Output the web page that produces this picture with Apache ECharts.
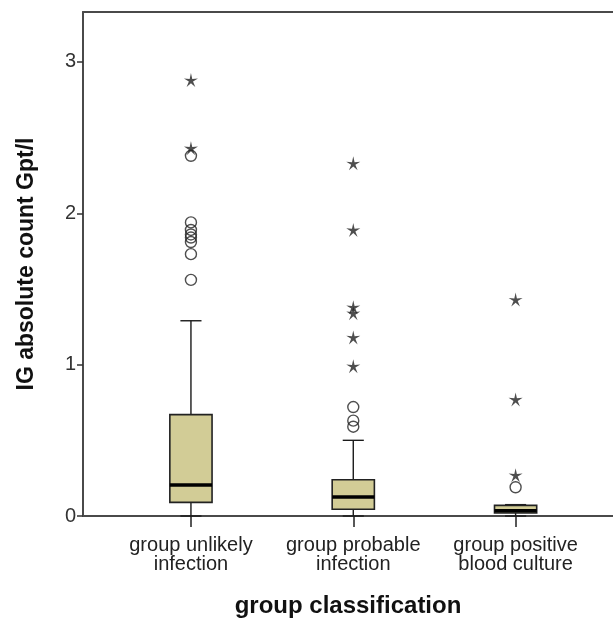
<!DOCTYPE html>
<html>
<head>
<meta charset="utf-8">
<script src="https://cdn.jsdelivr.net/npm/echarts@6/dist/echarts.min.js"></script>
<style>html,body{margin:0;padding:0;background:#fff}#c{width:613px;height:621px}</style>
</head>
<body>
<div id="c"></div>
<script>
const categories = ['group unlikely\ninfection', 'group probable\ninfection', 'group positive\nblood culture'];
const positions = [1, 2, 3];
const whiskerLow = [0, 0, 0];
const q1 = [0.09, 0.045, 0.02];
const median = [0.205, 0.125, 0.035];
const q3 = [0.67, 0.24, 0.07];
const whiskerHigh = [1.29, 0.50, 0.075];
const outliers = [
  [1, 2.38], [1, 1.94], [1, 1.89], [1, 1.86], [1, 1.84], [1, 1.81], [1, 1.73], [1, 1.56],
  [2, 0.72], [2, 0.63], [2, 0.59],
  [3, 0.19]
];
const extremes = [
  [1, 2.88], [1, 2.43],
  [2, 2.33], [2, 1.89], [2, 1.38], [2, 1.34], [2, 1.18], [2, 0.99],
  [3, 1.43], [3, 0.77], [3, 0.27]
];
const yTicks = [0, 1, 2, 3];

const boxData = positions.map((p, i) => [p, whiskerLow[i], q1[i], median[i], q3[i], whiskerHigh[i]]);
const BOX_HALF = 0.13, CAP_HALF = 0.065;
const FONT = 'Liberation Sans, Arial, sans-serif';
const starPath = 'path://M50,0 L58.82,37.86 L97.55,34.55 L64.27,54.64 L79.39,90.45 L50,65 L20.61,90.45 L35.73,54.64 L2.45,34.55 L41.18,37.86 Z';

function renderBox(params, api) {
  const x = api.value(0);
  const lo = api.coord([x, api.value(1)]);
  const b1 = api.coord([x - BOX_HALF, api.value(2)]);
  const b2 = api.coord([x + BOX_HALF, api.value(4)]);
  const md = api.coord([x, api.value(3)]);
  const hi = api.coord([x, api.value(5)]);
  const c1 = api.coord([x - CAP_HALF, 0])[0];
  const c2 = api.coord([x + CAP_HALF, 0])[0];
  const ln = {stroke: '#1a1a1a', lineWidth: 1.4};
  return {
    type: 'group',
    children: [
      {type: 'line', shape: {x1: lo[0], y1: b1[1], x2: lo[0], y2: lo[1]}, style: ln},
      {type: 'line', shape: {x1: hi[0], y1: b2[1], x2: hi[0], y2: hi[1]}, style: ln},
      {type: 'line', shape: {x1: c1, y1: lo[1], x2: c2, y2: lo[1]}, style: ln},
      {type: 'line', shape: {x1: c1, y1: hi[1], x2: c2, y2: hi[1]}, style: ln},
      {type: 'rect', shape: {x: b1[0], y: b2[1], width: b2[0] - b1[0], height: b1[1] - b2[1]},
        style: {fill: '#d2cc96', stroke: '#222', lineWidth: 1.6}},
      {type: 'line', shape: {x1: b1[0], y1: md[1], x2: b2[0], y2: md[1]}, style: {stroke: '#000', lineWidth: 3.5}}
    ]
  };
}

const chart = echarts.init(document.getElementById('c'), null, {renderer: 'canvas'});
chart.setOption({
  animation: false,
  backgroundColor: '#fff',
  grid: {left: 83, right: 0, top: 12, bottom: 105, containLabel: false, outerBoundsMode: 'none'},
  xAxis: [{
    type: 'value', min: 0.335, max: 3.6,
    splitLine: {show: false},
    axisLine: {lineStyle: {color: '#4a4a4a', width: 2}},
    axisTick: {customValues: positions, length: 11, lineStyle: {color: '#222', width: 1.5}},
    axisLabel: {customValues: positions, formatter: v => categories[Math.round(v) - 1] || '',
      fontFamily: FONT, fontSize: 20, lineHeight: 19, color: '#222', margin: 20},
    name: 'group classification', nameLocation: 'middle', nameGap: 78,
    nameTextStyle: {fontFamily: FONT, fontWeight: 'bold', fontSize: 24, color: '#111'}
  }, {
    type: 'value', min: 0.335, max: 3.6, position: 'top',
    splitLine: {show: false}, axisTick: {show: false}, axisLabel: {show: false},
    axisLine: {show: true, lineStyle: {color: '#4a4a4a', width: 2}}
  }],
  yAxis: {
    type: 'value', min: 0, max: 3.33,
    splitLine: {show: false},
    axisLine: {show: true, lineStyle: {color: '#4a4a4a', width: 2}},
    axisTick: {show: true, customValues: yTicks, length: 6, lineStyle: {color: '#333', width: 1.5}},
    axisLabel: {customValues: yTicks, fontFamily: FONT, fontSize: 20, color: '#333', margin: 7},
    name: 'IG absolute count Gpt/l', nameLocation: 'middle', nameGap: 45,
    nameTextStyle: {fontFamily: FONT, fontWeight: 'bold', fontSize: 23, color: '#111'}
  },
  series: [
    {type: 'custom', renderItem: renderBox, data: boxData, encode: {x: 0, y: [1, 2, 3, 4, 5]}, z: 2},
    {type: 'scatter', data: outliers, symbol: 'circle', symbolSize: 11,
      itemStyle: {color: 'rgba(255,255,255,0)', borderColor: '#222', borderWidth: 1.4}, z: 3},
    {type: 'scatter', data: extremes, symbol: starPath, symbolSize: 14,
      itemStyle: {color: '#222'}, z: 4}
  ]
});
</script>
</body>
</html>
